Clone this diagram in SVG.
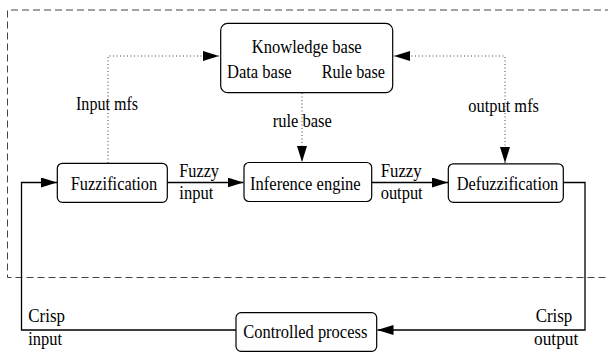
<svg xmlns="http://www.w3.org/2000/svg" width="608" height="352" viewBox="0 0 608 352">
<defs>
<style>
text{font-family:"Liberation Serif","Times New Roman",serif;font-size:18px;fill:#000}
.box{fill:#fff;stroke:#000;stroke-width:1.2}
.solid{fill:none;stroke:#000;stroke-width:1.3}
.dot{fill:none;stroke:#444;stroke-width:1;stroke-dasharray:1 2.5}
.dash{fill:none;stroke:#444;stroke-width:1;stroke-dasharray:7 4}
</style>
<marker id="ah" markerWidth="16" markerHeight="10" refX="16" refY="5" orient="auto-start-reverse" markerUnits="userSpaceOnUse">
<path d="M0,0 L16,5 L0,10 Z" fill="#000"/>
</marker>
</defs>
<rect width="608" height="352" fill="#fff"/>
<path class="dash" d="M612,10 H7.5 V277.5 H612"/>
<g id="connectors">
<path class="dot" d="M108,163 V56 H219" marker-end="url(#ah)"/>
<path class="dot" d="M394,56 H505 V163" marker-start="url(#ah)" marker-end="url(#ah)"/>
<path class="dot" d="M302,93 V162" marker-end="url(#ah)"/>
<path class="solid" d="M167,182.5 H243.5" marker-end="url(#ah)"/>
<path class="solid" d="M372,182.5 H448" marker-end="url(#ah)"/>
<path class="solid" d="M563,182.5 H585 V330 H377.5" marker-end="url(#ah)"/>
<path class="solid" d="M236,330 H21.5 V182.5 H57" marker-end="url(#ah)"/>
<text x="76" y="110" textLength="62" lengthAdjust="spacingAndGlyphs">Input mfs</text>
<text x="272.7" y="126.5" textLength="59" lengthAdjust="spacingAndGlyphs">rule base</text>
<text x="468.3" y="111.5" textLength="70.7" lengthAdjust="spacingAndGlyphs">output mfs</text>
<text x="179.3" y="176.5" textLength="39.7" lengthAdjust="spacingAndGlyphs">Fuzzy</text>
<text x="179.3" y="198.5" textLength="34" lengthAdjust="spacingAndGlyphs">input</text>
<text x="380.7" y="176.5" textLength="41" lengthAdjust="spacingAndGlyphs">Fuzzy</text>
<text x="380.7" y="198.5" textLength="42" lengthAdjust="spacingAndGlyphs">output</text>
<text x="28.3" y="321.5" textLength="36.7" lengthAdjust="spacingAndGlyphs">Crisp</text>
<text x="28.3" y="345" textLength="33.7" lengthAdjust="spacingAndGlyphs">input</text>
<text x="535.7" y="321.5" textLength="36.6" lengthAdjust="spacingAndGlyphs">Crisp</text>
<text x="534" y="345" textLength="44.3" lengthAdjust="spacingAndGlyphs">output</text>
</g>
<g id="knowledge">
<rect class="box" x="220.7" y="23.3" width="172" height="69.4" rx="7"/>
<text x="251.7" y="52.5" textLength="110" lengthAdjust="spacingAndGlyphs">Knowledge base</text>
<text x="227" y="77.5" textLength="64.7" lengthAdjust="spacingAndGlyphs">Data base</text>
<text x="321.7" y="77.5" textLength="63.3" lengthAdjust="spacingAndGlyphs">Rule base</text>
</g>
<g id="fuzzification">
<rect class="box" x="57.3" y="163.3" width="110" height="39" rx="5"/>
<text x="70.7" y="190" textLength="86.6" lengthAdjust="spacingAndGlyphs">Fuzzification</text>
</g>
<g id="inference">
<rect class="box" x="244" y="162.5" width="127.7" height="39" rx="5"/>
<text x="250" y="190" textLength="110.7" lengthAdjust="spacingAndGlyphs">Inference engine</text>
</g>
<g id="defuzzification">
<rect class="box" x="448.3" y="163.8" width="115" height="38.5" rx="5"/>
<text x="456.7" y="190" textLength="101.6" lengthAdjust="spacingAndGlyphs">Defuzzification</text>
</g>
<g id="process">
<rect class="box" x="236" y="312.7" width="140.7" height="38.6" rx="5"/>
<text x="243.3" y="338.3" textLength="124" lengthAdjust="spacingAndGlyphs">Controlled process</text>
</g>
</svg>
